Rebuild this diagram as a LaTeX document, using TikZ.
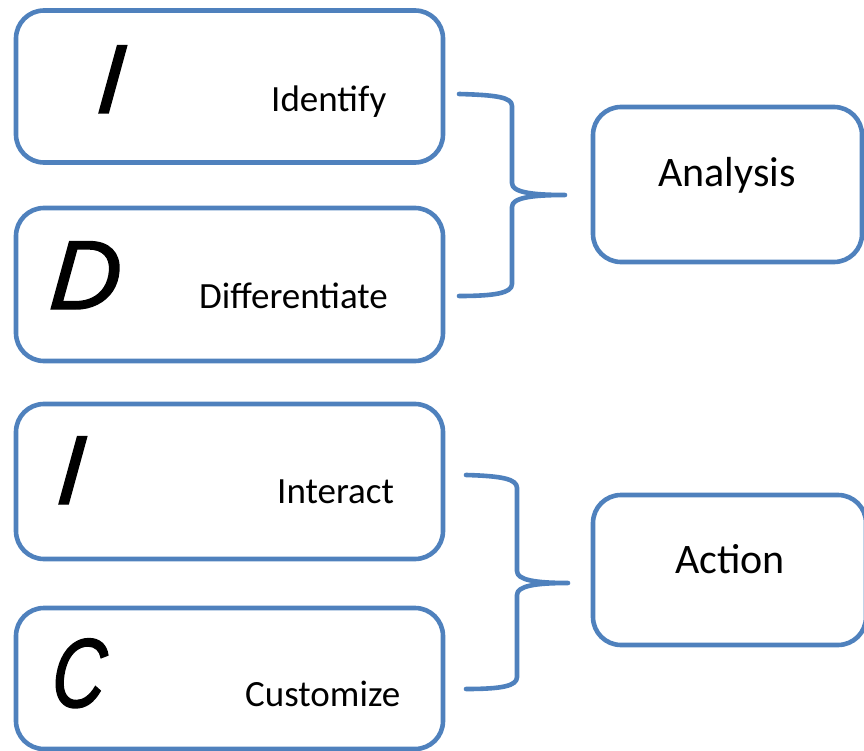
\documentclass[tikz,border=0pt]{standalone}
\usepackage{fontspec}
\setmainfont{Carlito}
\newfontfamily\bigletter[FakeBold=1.5,FakeSlant=0.08]{Liberation Sans Italic}
\newfontfamily\bigletterc[FakeBold=1.5,FakeSlant=0.08,FakeStretch=0.75]{Liberation Sans Italic}
\definecolor{boxblue}{HTML}{4F81BD}
\begin{document}
\begin{tikzpicture}[x=1pt,y=-1pt,
  box/.style={draw=boxblue,line width=4.6pt,rounded corners=28pt,minimum width=#1,inner sep=0pt},
  bigl/.style={anchor=base west,inner sep=0pt,font=\bigletter\fontsize{98}{100}\selectfont},
  sub/.style={anchor=base west,inner sep=0pt,font=\fontsize{37}{40}\selectfont},
  main/.style={anchor=base,inner sep=0pt,font=\fontsize{42}{46}\selectfont},
  brace/.style={draw=boxblue,line width=4.6pt,line cap=round,line join=round}]
\useasboundingbox (0,0) rectangle (864,751);
% boxes
\node[box=427pt,minimum height=152pt] (b1) at (229.5,86.5) {};
\node[box=427pt,minimum height=153pt] (b2) at (229.5,284.5) {};
\node[box=427pt,minimum height=155pt] (b3) at (229.5,481.5) {};
\node[box=427pt,minimum height=141pt] (b4) at (229.5,678.5) {};
\node[box=269pt,minimum height=155pt] (an) at (727.5,184.5) {};
\node[box=273pt,minimum height=150pt] (ac) at (729.5,570) {};
% letters
\node[bigl] (l1) at (95,113) {I};
\node[bigl] (l2) at (48,309) {D};
\node[bigl] (l3) at (55,504) {I};
\node[bigl,font=\bigletterc\fontsize{98}{100}\selectfont] (l4) at (50,707) {C};
% labels
\node[sub] (t1) at (271,112) {Identify};
\node[sub] (t2) at (199,308) {Differentiate};
\node[sub] (t3) at (277,503) {Interact};
\node[sub] (t4) at (245,706) {Customize};
\node[main] (m1) at (727,187) {Analysis};
\node[main] (m2) at (730,573) {Action};
% braces
\coordinate (a1) at (459,94);
\coordinate (a2) at (565,195);
\coordinate (a3) at (459,296);
\draw[brace] (a1) .. controls (495,95) and (512,97) .. (512,106)
  -- (512,183) .. controls (512,192) and (530,195) .. (a2)
  .. controls (530,195) and (512,198) .. (512,207)
  -- (512,284) .. controls (512,293) and (495,296) .. (a3);
\coordinate (c1) at (466,475);
\coordinate (c2) at (568,583);
\coordinate (c3) at (466,689);
\draw[brace] (c1) .. controls (502,476) and (517,479) .. (517,488)
  -- (517,571) .. controls (517,580) and (535,583) .. (c2)
  .. controls (535,583) and (517,586) .. (517,595)
  -- (517,677) .. controls (517,686) and (502,689) .. (c3);
\end{tikzpicture}
\end{document}
